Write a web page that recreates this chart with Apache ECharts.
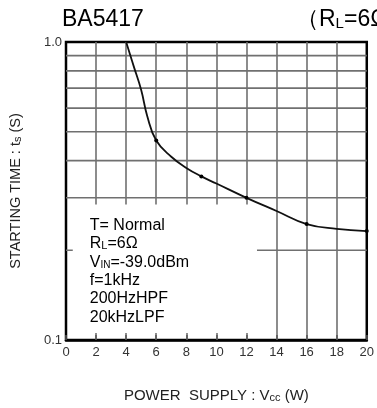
<!DOCTYPE html>
<html><head><meta charset="utf-8">
<script src="https://cdn.jsdelivr.net/npm/echarts@6.0.0/dist/echarts.min.js"></script>
<style>html,body{margin:0;padding:0;background:#fff}#c{width:377px;height:408px}</style>
</head><body><div id="c"></div>
<script>
// ---- data ----
const supplyW   = [4, 4.5, 5, 5.4, 6, 7, 8, 9, 10, 12, 14, 16, 18, 20];
const startTime = [1.0, 0.83, 0.69, 0.565, 0.467, 0.412, 0.378, 0.354, 0.335, 0.30, 0.271, 0.245, 0.236, 0.232];
const dotX      = [6, 9, 12, 16, 20];
const xTicks    = [0, 2, 4, 6, 8, 10, 12, 14, 16, 18, 20];
const yGridVals = [0.2, 0.3, 0.4, 0.5, 0.6, 0.7, 0.8, 0.9];
const yLabels   = [0.1, 1.0];
const notes     = ['T= Normal', 'R{s|L}=6Ω', 'V{sub|IN}=-39.0dBm', 'f=1kHz', '200HzHPF', '20kHzLPF'];
const titleText = 'BA5417';
const condText  = '（R{s|L}=6Ω）';

const FONT = '"Liberation Sans", Arial, Helvetica, sans-serif';
const chart = echarts.init(document.getElementById('c'), null, {renderer: 'canvas'});

const gridSeries = yGridVals.map(v => ({
  type: 'line', data: [[xTicks[0], v], [xTicks[xTicks.length - 1], v]],
  symbol: 'none', silent: true, animation: false, z: 1,
  lineStyle: {color: '#707070', width: 1.6}
}));

const option = {
  animation: false,
  grid: {left: 65, right: 8, top: 42, bottom: 67, show: true, borderColor: '#000', borderWidth: 2.5, backgroundColor: 'transparent'},
  xAxis: {
    type: 'value', min: xTicks[0], max: xTicks[xTicks.length - 1], interval: 2,
    axisLine: {show: true, lineStyle: {color: '#000', width: 2.5}},
    axisTick: {show: true, inside: true, length: 5, lineStyle: {color: '#555', width: 1.5}},
    axisLabel: {fontSize: 13, color: '#333', fontFamily: FONT, margin: 6},
    splitLine: {show: true, showMinLine: false, showMaxLine: false, lineStyle: {color: '#707070', width: 1.6}},
    name: 'POWER  SUPPLY : V{s|cc} (W)', nameLocation: 'middle', nameGap: 48,
    nameTextStyle: {fontSize: 15, color: '#222', fontFamily: FONT,
      rich: {s: {fontSize: 11, color: '#222', fontFamily: FONT, verticalAlign: 'bottom'}}}
  },
  yAxis: {
    type: 'log', logBase: 10, min: yLabels[0], max: yLabels[1], interval: 1,
    axisLine: {show: false}, axisTick: {show: false}, splitLine: {show: false},
    axisLabel: {fontSize: 13, color: '#333', fontFamily: FONT, margin: 4, formatter: v => Number(v).toFixed(1)},
    name: 'STARTING TIME : t{s|s} (S)', nameLocation: 'middle', nameGap: 43, nameRotate: 90,
    nameTextStyle: {fontSize: 14.5, color: '#222', fontFamily: FONT,
      rich: {s: {fontSize: 11, color: '#222', fontFamily: FONT, verticalAlign: 'bottom'}}}
  },
  series: gridSeries.concat([{
    type: 'line', smooth: 0.45, z: 10, silent: true,
    data: supplyW.map((x, i) => ({value: [x, startTime[i]], symbolSize: dotX.includes(x) ? 4 : 0})),
    symbol: 'circle', showAllSymbol: true,
    itemStyle: {color: '#000'},
    lineStyle: {color: '#111', width: 1.8}
  }])
};
chart.setOption(option);

// white label box over the lower-left grid, anchored in data space
const tl = chart.convertToPixel({xAxisIndex: 0, yAxisIndex: 0}, [0.45, 0.285]);
const br = chart.convertToPixel({xAxisIndex: 0, yAxisIndex: 0}, [12.7, 0.1]);
const boxX = tl[0], boxY = tl[1], boxW = br[0] - tl[0], boxH = br[1] - 7 - tl[1];

const noteEls = notes.map((t, i) => ({
  type: 'text', z: 6, left: boxX + 17, top: boxY + 13 + i * 18.4,
  style: {text: t, fontSize: 16, fontFamily: FONT, fill: '#000',
    rich: {
      s: {fontSize: 11, fontFamily: FONT, fill: '#000', verticalAlign: 'bottom'},
      sub: {fontSize: 10, fontFamily: FONT, fill: '#000', verticalAlign: 'bottom'}
    }}
}));

chart.setOption({
  graphic: [
    {type: 'rect', z: 5, silent: true, shape: {x: boxX, y: boxY, width: boxW, height: boxH}, style: {fill: '#fff'}},
    ...noteEls,
    {type: 'text', z: 6, left: 62, top: 8, style: {text: titleText, fontSize: 23, fontFamily: FONT, fill: '#000'}},
    {type: 'text', z: 6, left: 296, top: 8, style: {text: condText, fontSize: 23, fontFamily: FONT, fill: '#000',
      rich: {s: {fontSize: 15, fontFamily: FONT, fill: '#000', verticalAlign: 'bottom'}}}}
  ]
});
</script></body></html>
